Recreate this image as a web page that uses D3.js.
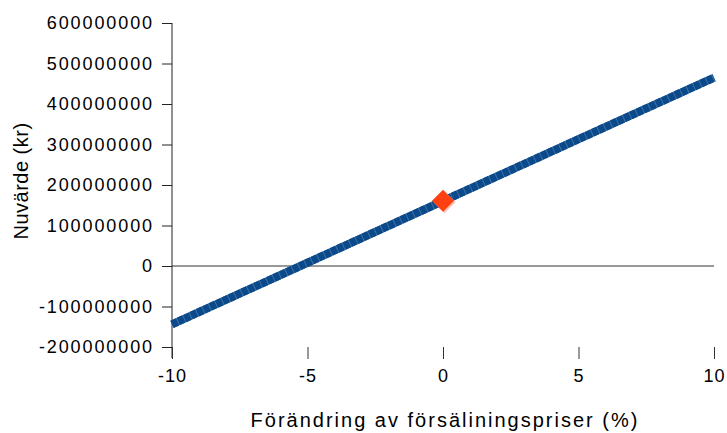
<!DOCTYPE html>
<html>
<head>
<meta charset="utf-8">
<script src="https://cdn.jsdelivr.net/npm/d3@7"></script>
<style>
  html, body { margin: 0; padding: 0; background: #fff; }
  svg { display: block; }
  text { font-family: "Liberation Sans", Arial, sans-serif; fill: #000; }
</style>
</head>
<body>
<svg id="chart" width="727" height="433"></svg>
<script>
// Sensitivity of net present value to change in sales prices
const priceChange = [-10, -5, 0, 5, 10];
const presentValue = [-144000000, 8000000, 160500000, 313000000, 465000000];
const baseCase = { change: 0, value: 161000000 };
const yTicks = [-200000000, -100000000, 0, 100000000, 200000000, 300000000, 400000000, 500000000, 600000000];
const xTicks = [-10, -5, 0, 5, 10];

const plain = d => String(d); // keep ASCII hyphen for negatives

const svg = d3.select("#chart");
const x = d3.scaleLinear().domain([-10, 10]).range([172, 714]);
const y = d3.scaleLinear().domain([-200000000, 600000000]).range([347, 23]);

// Y axis (left)
const yAxis = svg.append("g")
  .attr("transform", "translate(172,0)")
  .call(d3.axisLeft(y).tickValues(yTicks).tickSize(10).tickPadding(8).tickFormat(plain));
yAxis.select(".domain").attr("d", `M0,${y(600000000)}V${y(-200000000) + 11}`).attr("stroke", "#222");
yAxis.selectAll(".tick line").attr("stroke", "#222");
yAxis.selectAll(".tick text")
  .style("font-size", "18px")
  .style("letter-spacing", "1.9px")
  .attr("fill", "#000");

// X axis (bottom): ticks only, labels below
const xAxis = svg.append("g")
  .attr("transform", `translate(0,${y(-200000000)})`)
  .call(d3.axisBottom(x).tickValues(xTicks).tickSize(12).tickPadding(10).tickFormat(plain));
xAxis.select(".domain").remove();
xAxis.selectAll(".tick line").attr("stroke", "#333");
xAxis.selectAll(".tick text")
  .style("font-size", "18px")
  .style("letter-spacing", "1px")
  .attr("fill", "#000");

// Zero reference line
svg.append("line")
  .attr("x1", x(-10)).attr("x2", x(10))
  .attr("y1", y(0)).attr("y2", y(0))
  .attr("stroke", "#333").attr("stroke-width", 1);

// Value line: light underlay with darker dashed overlay gives the textured stroke
const pts = priceChange.map((c, i) => [c, presentValue[i]]);
const line = d3.line().x(d => x(d[0])).y(d => y(d[1]));
svg.append("path").datum(pts)
  .attr("d", line).attr("fill", "none")
  .attr("stroke", "#3f6fa5").attr("stroke-width", 8);
svg.append("path").datum(pts)
  .attr("d", line).attr("fill", "none")
  .attr("stroke", "#0b4a8a").attr("stroke-width", 8)
  .attr("stroke-dasharray", "6,1");

// Base-case marker
const cx = x(baseCase.change), cy = y(baseCase.value);
const diamond = r => `M0,${-r}L${r},0L0,${r}L${-r},0Z`;
svg.append("path")
  .attr("d", diamond(11))
  .attr("transform", `translate(${cx + 1.5},${cy + 1.5})`)
  .attr("fill", "#f6c2b4");
svg.append("path")
  .attr("d", diamond(11))
  .attr("transform", `translate(${cx},${cy})`)
  .attr("fill", "#ff4012");

// Axis titles
svg.append("text")
  .attr("transform", "translate(28,181) rotate(-90)")
  .attr("text-anchor", "middle")
  .style("font-size", "20px")
  .style("letter-spacing", "0.5px")
  .text("Nuvärde (kr)");
svg.append("text")
  .attr("x", 445).attr("y", 427)
  .attr("text-anchor", "middle")
  .style("font-size", "20px")
  .style("letter-spacing", "2px")
  .text("Förändring av försäliningspriser (%)");
</script>
</body>
</html>
